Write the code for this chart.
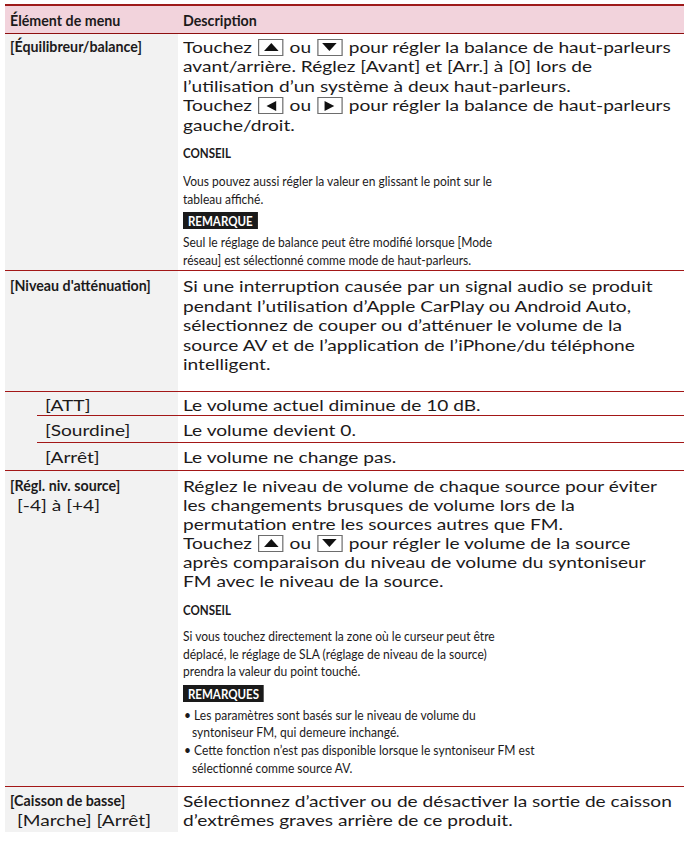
<!DOCTYPE html>
<html lang="fr">
<head>
<meta charset="utf-8">
<script src="https://cdn.jsdelivr.net/npm/chart.js@4.4.1/dist/chart.umd.min.js"></script>
<style>
  html, body { margin:0; padding:0; background:#fff; }
  body { width:684px; height:855px; overflow:hidden; font-family:"Lato","Open Sans",sans-serif; color:#1c1a1b; }
  #tbl { position:absolute; left:5px; top:4px; width:679px; }
  .hdr { height:27px; background:#f2d3dc; border-top:2px solid #9e1a1a; border-bottom:1.5px solid #8e0f0f; display:flex; align-items:center; box-sizing:content-box; }
  .hdr .c1 { width:173px; }
  .row { display:flex; position:relative; box-sizing:border-box; }
  .row.sep { border-top:1px solid #a31717; }
  .left { width:173px; background:#f2f2f2; box-sizing:border-box; position:relative; }
  .right { flex:1; box-sizing:border-box; position:relative; }
  .ln { white-space:nowrap; transform-origin:0 50%; }
  .m  { font-size:var(--fs-m); font-weight:400; transform:scaleX(var(--sx-m)); }
  .mb { font-size:var(--fs-mb); font-weight:700; transform:scaleX(var(--sx-mb)); }
  .s  { font-size:var(--fs-s); font-weight:400; transform:scaleX(var(--sx-s)); }
  .sb { font-size:var(--fs-s); font-weight:700; transform:scaleX(var(--sx-sb)); }
  .btn { display:inline-block; width:21px; height:17px; border:1px solid #6d6d6d; box-sizing:border-box; vertical-align:-3px; position:relative; margin:0 1px; background:#fff; }
  .btn::after { content:""; position:absolute; left:50%; top:50%; width:0; height:0; border-style:solid; transform:translate(-50%,-50%); }
  .btn.up::after { border-width:0 6px 8px 6px; border-color:transparent transparent #111 transparent; }
  .btn.down::after { border-width:8px 6px 0 6px; border-color:#111 transparent transparent transparent; }
  .btn.lf::after { border-width:5px 8px 5px 0; border-color:transparent #111 transparent transparent; }
  .btn.rt::after { border-width:5px 0 5px 8px; border-color:transparent transparent transparent #111; }
  .tag { display:inline-block; background:#1a1a1a; color:#fff; padding:0 6px; height:17px; line-height:17px; }
  .subline { position:absolute; top:-1px; left:32px; right:0; border-top:1px solid #a31717; }
</style>
</head>
<body>
<div id="tbl"></div>
<script>
// ---- content (text data) ----
const headers = ["Élément de menu", "Description"];
const menuItems = ["[Équilibreur/balance]", "[Niveau d'atténuation]", "[ATT]", "[Sourdine]", "[Arrêt]", "[Régl. niv. source]", "[Caisson de basse]"];
const itemOptions = ["", "", "", "", "", "[-4] à [+4]", "[Marche] [Arrêt]"];
const subItem = [false, false, true, true, true, false, false];

const desc0 = ["Touchez {up} ou {down} pour régler la balance de haut-parleurs",
               "avant/arrière. Réglez [Avant] et [Arr.] à [0] lors de",
               "l’utilisation d’un système à deux haut-parleurs.",
               "Touchez {left} ou {right} pour régler la balance de haut-parleurs",
               "gauche/droit."];
const tip0 = ["Vous pouvez aussi régler la valeur en glissant le point sur le", "tableau affiché."];
const note0 = ["Seul le réglage de balance peut être modifié lorsque [Mode", "réseau] est sélectionné comme mode de haut-parleurs."];
const desc1 = ["Si une interruption causée par un signal audio se produit",
               "pendant l’utilisation d’Apple CarPlay ou Android Auto,",
               "sélectionnez de couper ou d’atténuer le volume de la",
               "source AV et de l’application de l’iPhone/du téléphone",
               "intelligent."];
const desc2 = ["Le volume actuel diminue de 10 dB."];
const desc3 = ["Le volume devient 0."];
const desc4 = ["Le volume ne change pas."];
const desc5 = ["Réglez le niveau de volume de chaque source pour éviter",
               "les changements brusques de volume lors de la",
               "permutation entre les sources autres que FM.",
               "Touchez {up} ou {down} pour régler le volume de la source",
               "après comparaison du niveau de volume du syntoniseur",
               "FM avec le niveau de la source."];
const tip5 = ["Si vous touchez directement la zone où le curseur peut être",
              "déplacé, le réglage de SLA (réglage de niveau de la source)",
              "prendra la valeur du point touché."];
const notes5 = [["Les paramètres sont basés sur le niveau de volume du", "syntoniseur FM, qui demeure inchangé."],
                ["Cette fonction n’est pas disponible lorsque le syntoniseur FM est", "sélectionné comme source AV."]];
const desc6 = ["Sélectionnez d’activer ou de désactiver la sortie de caisson",
               "d’extrêmes graves arrière de ce produit."];
const tipLabel = "CONSEIL", noteLabel = "REMARQUE", notesLabel = "REMARQUES";

// ---- fit the font to the reference's text widths ----
const FONT = "Lato";
const FS_M = 15.8, FS_MB = 15.5, FS_S = 14;
const cv = document.createElement('canvas').getContext('2d');
function sx(text, target, weight, fs) {
  cv.font = weight + " " + fs + "px '" + FONT + "'";
  return target / cv.measureText(text).width;
}
const root = document.documentElement.style;
root.setProperty('--fs-m', FS_M + 'px');
root.setProperty('--fs-mb', FS_MB + 'px');
root.setProperty('--fs-s', FS_S + 'px');
root.setProperty('--sx-m', sx(desc1[0], 470, 400, FS_M));
root.setProperty('--sx-mb', sx(menuItems[0], 132, 700, FS_MB));
root.setProperty('--sx-s', sx(tip0[0], 310, 400, FS_S));
root.setProperty('--sx-sb', sx(tipLabel, 48, 700, FS_S));

// ---- builders ----
function esc(s){ return s.replace(/&/g,'&amp;').replace(/</g,'&lt;'); }
function lineHTML(s) {
  return esc(s).replace(/\{up\}/g,'<span class="btn up"></span>')
               .replace(/\{down\}/g,'<span class="btn down"></span>')
               .replace(/\{left\}/g,'<span class="btn lf"></span>')
               .replace(/\{right\}/g,'<span class="btn rt"></span>');
}
function para(lines, cls, lh, mt, ml) {
  return `<div style="line-height:${lh}px;margin-top:${mt}px">` +
    lines.map(l => `<div class="ln ${cls}" style="margin-left:${ml||0}px">${lineHTML(l)}</div>`).join('') + `</div>`;
}
function tag(t, mt) { return `<div class="ln sb" style="margin-top:${mt}px;height:17px;line-height:17px"><span class="tag">${t}</span></div>`; }
function bullets(list, lh, mt) {
  let h = `<div style="line-height:${lh}px;margin-top:${mt}px">`;
  list.forEach(item => item.forEach((l, k) => {
    h += `<div class="ln s" style="margin-left:${k ? 9 : 1}px">${k ? '' : '•&nbsp;'}${esc(l)}</div>`;
  }));
  return h + '</div>';
}
function leftCell(i, lh, mt) {
  let h = `<div style="line-height:${lh}px;margin-top:${mt}px">`;
  h += `<div class="ln ${subItem[i] ? 'm' : 'mb'}" style="margin-left:${subItem[i] ? 40 : 5}px">${esc(menuItems[i])}</div>`;
  if (itemOptions[i]) h += `<div class="ln m" style="margin-left:12px">${esc(itemOptions[i])}</div>`;
  return h + '</div>';
}
const R = (lines, cls, lh, mt) => para(lines, cls, lh, mt, 5);

const rows = [
  { h:236, left:leftCell(0,19.5,2.5),
    right: R(desc0,'m',19.5,2.5) + para([tipLabel],'sb',18,9.5,5) + R(tip0,'s',18,10) +
           `<div style="margin-left:5px">${tag(noteLabel,4.5)}</div>` + R(note0,'s',17.5,4) },
  { h:121, left:leftCell(1,19.5,5), right: R(desc1,'m',19.5,5) },
  { h:25, sub:true, left:leftCell(2,19,3), right: R(desc2,'m',19,3) },
  { h:27, sub:true, left:leftCell(3,19,4), right: R(desc3,'m',19,4) },
  { h:27, sub:true, left:leftCell(4,19,4), right: R(desc4,'m',19,4) },
  { h:316, left:leftCell(5,19,4.5),
    right: R(desc5,'m',19,4.5) + para([tipLabel],'sb',18,11.5,5) + R(tip5,'s',17.5,8) +
           `<div style="margin-left:5px">${tag(notesLabel,5.5)}</div>` + `<div style="margin-left:5px">${bullets(notes5,17.7,3.5)}</div>` },
  { h:46, left:leftCell(6,19,4), right: R(desc6,'m',19,4) }
];

let html = `<div class="hdr"><div class="c1"><div class="ln mb" style="margin-left:5px">${headers[0]}</div></div>` +
           `<div><div class="ln mb" style="margin-left:5px">${headers[1]}</div></div></div>`;
rows.forEach((r, i) => {
  const inner = r.sub && rows[i-1].sub;
  html += `<div class="row ${i > 0 && !inner ? 'sep' : ''}" style="height:${r.h}px">` +
          (inner ? '<div class="subline"></div>' : '') +
          `<div class="left">${r.left}</div><div class="right">${r.right}</div></div>`;
});
document.getElementById('tbl').innerHTML = html;
</script>
</body>
</html>
